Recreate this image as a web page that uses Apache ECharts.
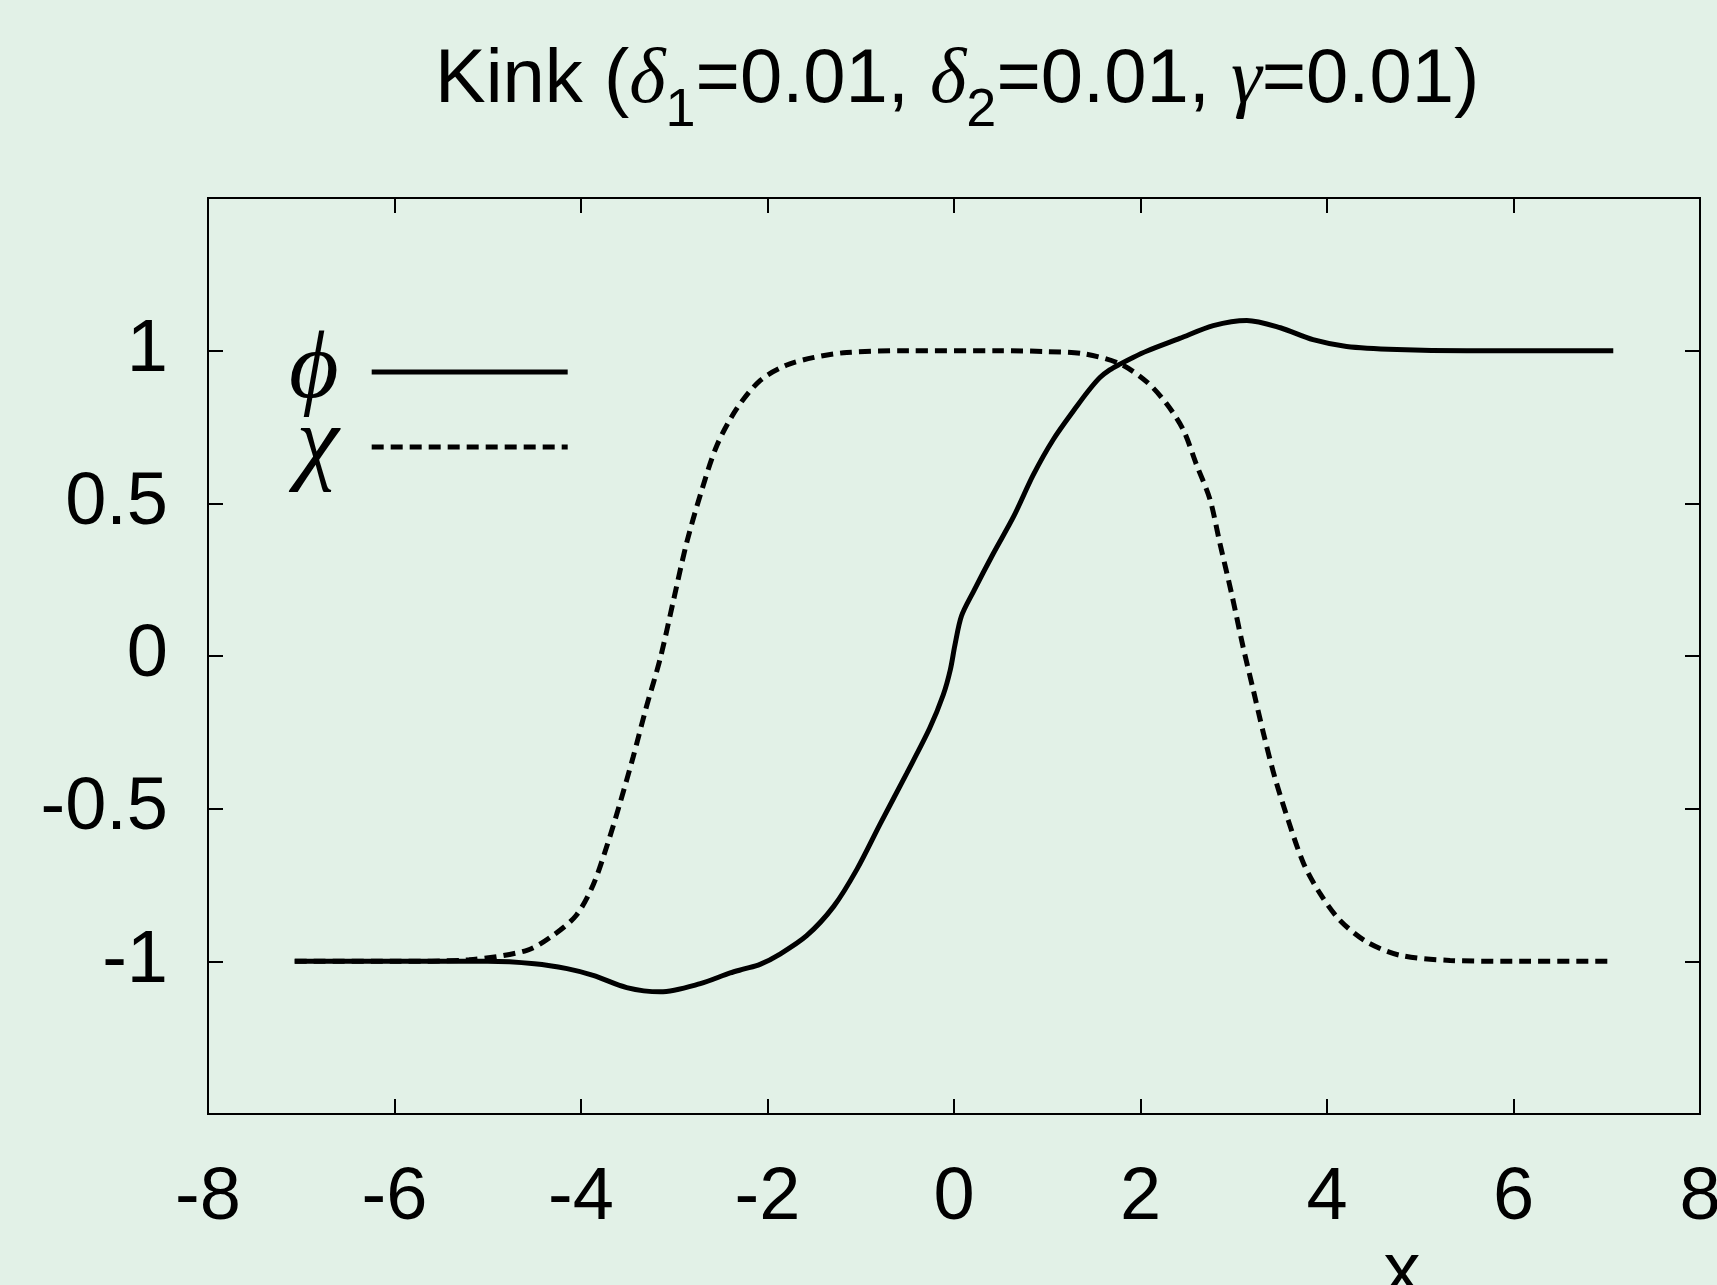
<!DOCTYPE html>
<html>
<head>
<meta charset="utf-8">
<title>Kink</title>
<script src="https://cdn.jsdelivr.net/npm/echarts@6/dist/echarts.min.js"></script>
<style>
  html, body { margin: 0; padding: 0; background: #e2f1e7; overflow: hidden; }
  #chart { width: 100vw; height: 100vh; }
</style>
</head>
<body>
<div id="chart"></div>
<script>
// values
var phiX = [-7.07, -6.0, -5.0, -4.5, -4.15, -3.87, -3.51, -3.15, -2.72, -2.4, -2.25, -2.08, -1.87, -1.58, -1.29, -1.04,
  -0.79, -0.51, -0.26, -0.115, -0.04, 0.01, 0.08, 0.21, 0.42, 0.64, 0.85, 1.065, 1.315, 1.44, 1.565, 1.67, 1.78,
  1.92, 2.07, 2.42, 2.78, 3.14, 3.5, 3.85, 4.21, 4.75, 5.5, 7.07];
var phiY = [-1, -1, -1.0, -1.008, -1.024, -1.046, -1.086, -1.1, -1.073, -1.038, -1.025, -1.01, -0.977, -0.916, -0.82, -0.698,
  -0.549, -0.386, -0.236, -0.127, -0.046, 0.036, 0.131, 0.212, 0.335, 0.457, 0.593, 0.709, 0.817, 0.868, 0.912, 0.937, 0.956,
  0.978, 0.999, 1.04, 1.082, 1.099, 1.075, 1.036, 1.014, 1.004, 1.0, 1.0];

var chiX = [-7.07, -6.0, -5.2, -4.58, -4.3, -4.05, -3.87, -3.72, -3.58, -3.44, -3.3, -3.15, -3.01, -2.87, -2.72,
  -2.545, -2.33, -2.08, -1.8, -1.5, -1.15, -0.5, 0.5, 1.0, 1.39, 1.78, 2.07, 2.28, 2.46, 2.6,
  2.745, 2.85, 2.98, 3.1, 3.21, 3.32, 3.44, 3.585, 3.75, 3.93, 4.14, 4.43, 4.78, 5.32, 6.0, 7.07];
var chiY = [-1, -1, -0.995, -0.964, -0.915, -0.849, -0.75, -0.62, -0.48, -0.33, -0.168, -0.008, 0.18, 0.367, 0.528,
  0.688, 0.81, 0.902, 0.952, 0.978, 0.994, 1.0, 1.0, 0.997, 0.99, 0.957, 0.897, 0.826, 0.74, 0.627,
  0.513, 0.371, 0.2, 0.03, -0.112, -0.255, -0.397, -0.539, -0.68, -0.78, -0.866, -0.937, -0.98, -0.997, -1, -1];

var xTicks = [-8, 8, 2];      // min, max, step
var yTicks = [-1.5, 1.5, 0.5];

var sans = 'Liberation Sans, Arial, sans-serif';
var serif = 'Liberation Serif, DejaVu Serif, serif';

function pairs(xs, ys) {
  return xs.map(function (x, i) { return [x, ys[i]]; });
}

var tickStyle = { inside: true, length: 15, lineStyle: { color: '#000', width: 2 } };
var labelStyle = { fontSize: 74, fontFamily: sans, color: '#000' };
var noLine = { show: false, onZero: false };

var chart = echarts.init(document.getElementById('chart'));
chart.setOption({
  backgroundColor: '#e2f1e7',
  animation: false,
  title: {
    left: 430,
    top: 31,
    text: '{n|Kink (}{g|δ}{s|1}{n|=0.01, }{g|δ}{s|2}{n|=0.01, }{g|γ}{n|=0.01)}',
    textStyle: {
      fontWeight: 'normal',
      rich: {
        n: { fontSize: 76, fontFamily: sans, fontWeight: 'normal', color: '#000', lineHeight: 90 },
        g: { fontSize: 78, fontFamily: serif, fontStyle: 'italic', fontWeight: 'normal', color: '#000', lineHeight: 90 },
        s: { fontSize: 54, fontFamily: sans, fontWeight: 'normal', color: '#000', lineHeight: 54, padding: [60, 0, 0, 0] }
      }
    }
  },
  legend: {
    orient: 'vertical',
    left: 284,
    top: 319,
    align: 'right',
    itemWidth: 196,
    itemHeight: 14,
    itemGap: -21,
    selectedMode: false,
    data: ['ϕ', 'χ'],
    itemStyle: { color: 'rgba(0,0,0,0)', borderWidth: 0 },
    lineStyle: { width: 5 },
    textStyle: {
      fontSize: 96,
      fontFamily: serif,
      fontStyle: 'italic',
      color: '#000',
      padding: [0, 28, 0, 0]
    }
  },
  grid: {
    left: 208,
    right: 17,
    top: 198,
    bottom: 171,
    outerBoundsMode: 'none',
    show: true,
    borderColor: '#000',
    borderWidth: 2
  },
  xAxis: [
    {
      type: 'value', position: 'bottom',
      min: xTicks[0], max: xTicks[1], interval: xTicks[2],
      axisLine: noLine,
      axisTick: tickStyle,
      axisLabel: Object.assign({ margin: 48 }, labelStyle),
      splitLine: { show: false }
    },
    {
      type: 'value', position: 'top',
      min: xTicks[0], max: xTicks[1], interval: xTicks[2],
      axisLine: noLine,
      axisTick: tickStyle,
      axisLabel: { show: false },
      splitLine: { show: false }
    }
  ],
  yAxis: [
    {
      type: 'value', position: 'left',
      min: yTicks[0], max: yTicks[1], interval: yTicks[2],
      axisLine: noLine,
      axisTick: tickStyle,
      axisLabel: Object.assign({
        margin: 40,
        showMinLabel: false,
        showMaxLabel: false,
        formatter: function (v) { return Math.abs(v) > 1.2 ? '' : String(v); }
      }, labelStyle),
      splitLine: { show: false }
    },
    {
      type: 'value', position: 'right',
      min: yTicks[0], max: yTicks[1], interval: yTicks[2],
      axisLine: noLine,
      axisTick: tickStyle,
      axisLabel: { show: false },
      splitLine: { show: false }
    }
  ],
  graphic: [
    {
      type: 'text',
      x: 1402,
      y: 1274,
      style: { text: 'x', font: '74px ' + sans, fill: '#000', align: 'center', verticalAlign: 'middle' }
    }
  ],
  series: [
    {
      name: 'ϕ',
      type: 'line',
      xAxisIndex: 0,
      yAxisIndex: 0,
      data: pairs(phiX, phiY),
      symbol: 'none',
      smooth: 0.3,
      lineStyle: { color: '#000', width: 5, type: 'solid' },
      itemStyle: { color: '#000' }
    },
    {
      name: 'χ',
      type: 'line',
      xAxisIndex: 0,
      yAxisIndex: 0,
      data: pairs(chiX, chiY),
      symbol: 'none',
      smooth: 0.3,
      lineStyle: { color: '#000', width: 5, type: [12, 7] },
      itemStyle: { color: '#000' }
    }
  ]
});
</script>
</body>
</html>
